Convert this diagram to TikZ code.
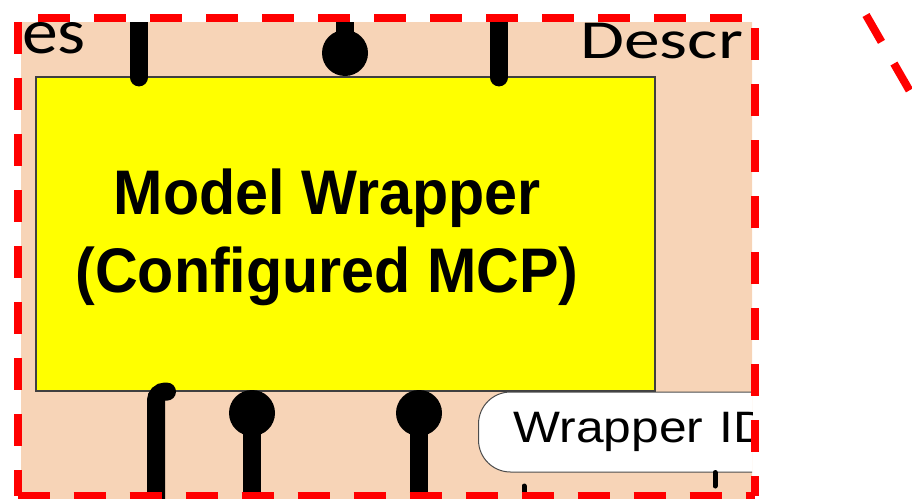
\documentclass[tikz,border=0pt]{standalone}
\usepackage{fontspec}
\setmainfont{Liberation Sans}
\newfontfamily\calibrifont{Carlito}
\usetikzlibrary{positioning,calc}
\usepackage{xcolor}
\definecolor{peach}{RGB}{247,212,183}
\definecolor{boxYellow}{RGB}{255,255,0}

\tikzset{
  stem/.style={line width=18pt,line cap=round},
  ball/.style={circle,fill=black,inner sep=0pt,minimum size=46pt},
  pin/.style={line width=5pt,line cap=round},
  frameline/.style={red,line width=8pt,dash pattern=on 32pt off 24pt},
  wrapbox/.style={draw=black!75,fill=boxYellow,line width=1.2pt,inner sep=0pt,
    minimum width=619pt,minimum height=314pt},
  idbox/.style={draw=black!70,fill=white,line width=1pt,rounded corners=32pt,
    minimum height=80pt,text width=300pt,inner xsep=35pt,align=left,
    font=\fontsize{44}{50}\selectfont},
  sidetext/.style={inner sep=0pt,font=\calibrifont}
}

\begin{document}
\begin{tikzpicture}[x=1pt,y=-1pt]
  \useasboundingbox (0,0) rectangle (912,498);
  \begin{scope}
    \clip (21,22) rectangle (752,500);
    \fill[peach] (0,0) rectangle (912,510);
    % texts cut by the region
    \node[sidetext,anchor=base east,xscale=1.12,font=\calibrifont\fontsize{64}{64}\selectfont] (esText) at (86,53) {es};
    \node[sidetext,anchor=base west,xscale=1.3,font=\calibrifont\fontsize{55}{55}\selectfont] (descText) at (580,58) {Descr};
    % the wrapper
    \node[wrapbox] (wrapper) at (345.5,234) {};
    \node[align=center,xscale=0.94,font=\fontsize{63}{78}\selectfont\bfseries] (wrapLabel) at (327,237.5) {Model Wrapper\\(Configured MCP)};
    % top connectors
    \coordinate (topL) at (139,0);
    \coordinate (topM) at (345,0);
    \coordinate (topR) at (499,0);
    \node[ball] (ballT) at (345,53) {};
    \draw[stem] (topL) -- ([yshift=-1pt]topL |- wrapper.north);
    \draw[stem,line cap=butt] (topM) -- (ballT.center);
    \draw[stem] (topR) -- ([yshift=-1pt]topR |- wrapper.north);
    % bottom connectors
    \coordinate (botL) at (156,510);
    \node[ball] (ballA) at (252,413) {};
    \node[ball] (ballB) at (419,413) {};
    \draw[stem,rounded corners=9pt] (botL) -- (botL |- wrapper.south) -- ++(11,0);
    \draw[stem,line cap=butt] (ballA.center) -- (ballA.center |- botL);
    \draw[stem,line cap=butt] (ballB.center) -- (ballB.center |- botL);
    % wrapper id
    \node[idbox,anchor=west] (wrapId) at (478,432) {\scalebox{1.13}[1]{Wrapper ID}};
    \coordinate (pinA) at (524,486);
    \coordinate (pinB) at (715,486);
    \draw[pin] (pinA) -- ++(0,20);
    \draw[pin] (pinB |- wrapId.south) -- (pinB);
  \end{scope}
  % dashed frame
  \coordinate (fTL) at (17.5,18);
  \coordinate (fTR) at (755,18);
  \coordinate (fBL) at (17.5,496);
  \coordinate (fBR) at (755,496);
  \draw[frameline,dash phase=35.5pt] (fTL) -- (fTR);
  \draw[frameline,dash phase=52pt] (fTL) -- (fBL);
  \draw[frameline] (fBL) -- (fBR);
  \draw[frameline,dash phase=46pt] (fTR) -- (fBR);
  \begin{scope}
    \clip (0,0) rectangle (912,498);
    \coordinate (diagA) at (866,15);
    \coordinate (diagB) at (946,154);
    \draw[red,line width=8pt,dash pattern=on 31pt off 25pt] (diagA) -- (diagB);
  \end{scope}
\end{tikzpicture}
\end{document}
